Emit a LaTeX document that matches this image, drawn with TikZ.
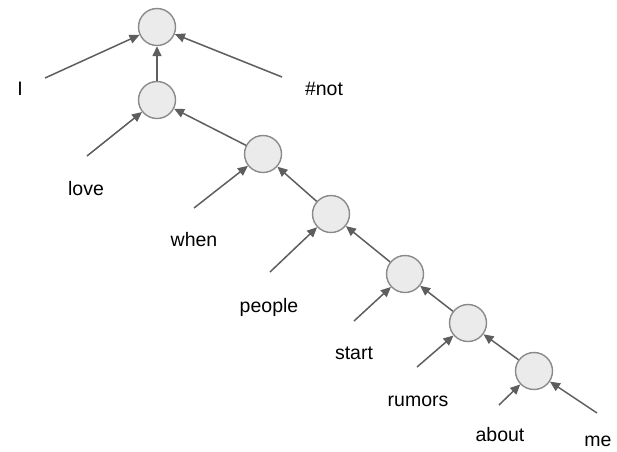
\documentclass[tikz,border=0pt]{standalone}
\usepackage{fontspec}
\setmainfont{Liberation Sans}
\usetikzlibrary{arrows.meta}
\definecolor{nodefill}{HTML}{EBEBEB}
\definecolor{nodeline}{HTML}{8A8A8A}
\definecolor{linkline}{HTML}{5E5E5E}
\tikzset{
unit/.style={circle, draw=nodeline, fill=nodefill, line width=1.4pt, minimum size=37pt, inner sep=0pt}, % the composed nodes
word/.style={anchor=base, inner sep=0pt, font=\fontsize{19.5}{23}\selectfont}, % the words under the tree
link/.style={draw=linkline, line width=1.5pt, -{Triangle[length=10pt,width=9pt]}}, % makes the edges directed
}

\begin{document}
\begin{tikzpicture}[x=1pt, y=-1pt]
  \useasboundingbox (0,0) rectangle (617,451);
  % composed nodes
  \node[unit] (root) at (157,27) {};
  \node[unit] (n1) at (157,100) {};
  \node[unit] (n2) at (263,154) {};
  \node[unit] (n3) at (331,214) {};
  \node[unit] (n4) at (405,274) {};
  \node[unit] (n5) at (468,323) {};
  \node[unit] (n6) at (534,371) {};
  % free ends of the word edges
  \coordinate (eI) at (45,78);
  \coordinate (enot) at (282,77);
  \coordinate (elove) at (87,156);
  \coordinate (ewhen) at (194,208);
  \coordinate (epeople) at (270,272);
  \coordinate (estart) at (354,321);
  \coordinate (erumors) at (417,367);
  \coordinate (eabout) at (499,405);
  \coordinate (eme) at (597,413);
  % words
  \node[word] (wI) at (20,95) {I};
  \node[word] (wnot) at (324,95) {\#not};
  \node[word] (wlove) at (86,195) {love};
  \node[word] (wwhen) at (194,246) {when};
  \node[word] (wpeople) at (269,312) {people};
  \node[word] (wstart) at (354,359) {start};
  \node[word] (wrumors) at (418,406) {rumors};
  \node[word] (wabout) at (500,441) {about};
  \node[word] (wme) at (598,446) {me};
  % edges
  \draw[link] (eI) -- (root);
  \draw[link] (enot) -- (root);
  \draw[link] (n1) -- (root);
  \draw[link] (elove) -- (n1);
  \draw[link] (n2) -- (n1);
  \draw[link] (ewhen) -- (n2);
  \draw[link] (n3) -- (n2);
  \draw[link] (epeople) -- (n3);
  \draw[link] (n4) -- (n3);
  \draw[link] (estart) -- (n4);
  \draw[link] (n5) -- (n4);
  \draw[link] (erumors) -- (n5);
  \draw[link] (n6) -- (n5);
  \draw[link] (eabout) -- (n6);
  \draw[link] (eme) -- (n6);
\end{tikzpicture}
\end{document}
